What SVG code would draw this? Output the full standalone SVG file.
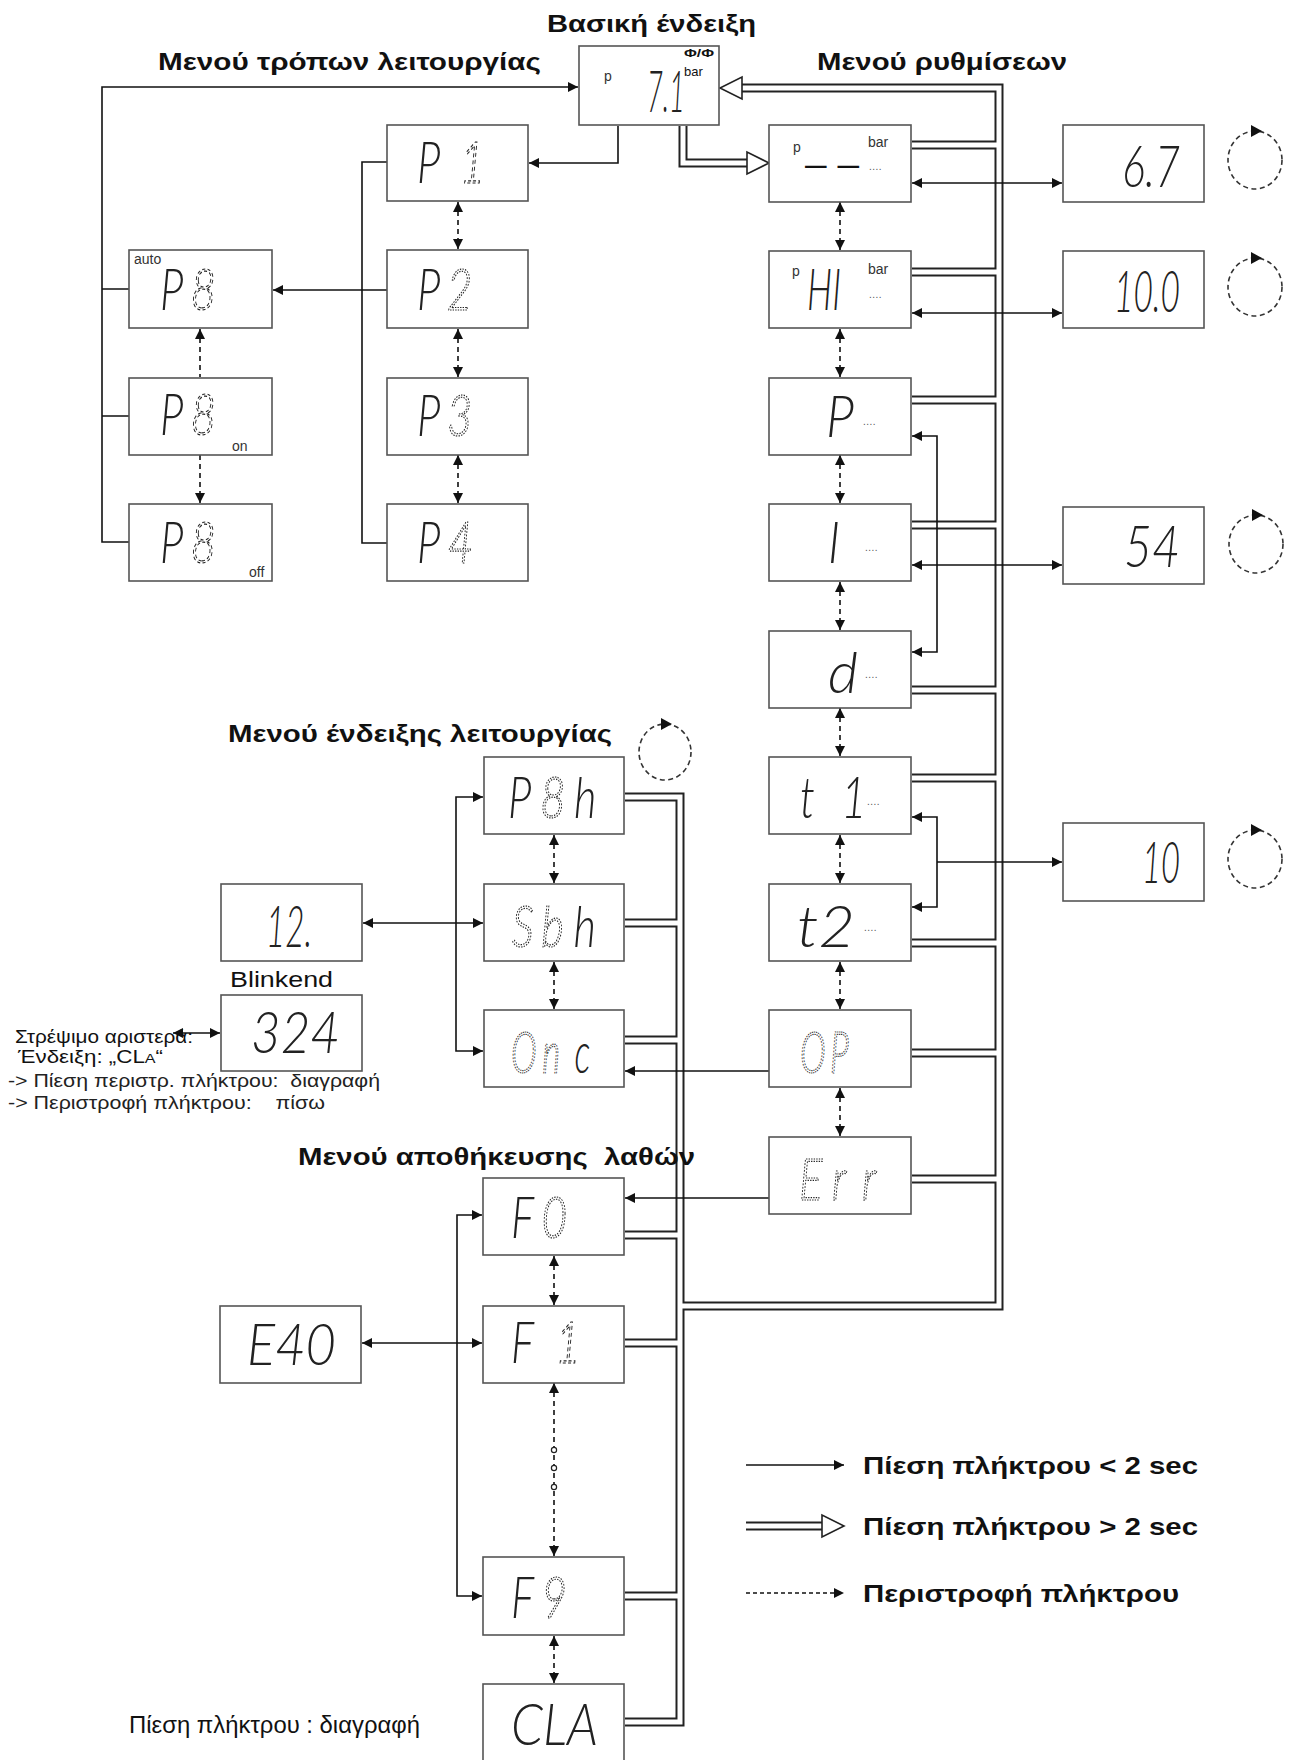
<svg xmlns="http://www.w3.org/2000/svg" xmlns:xlink="http://www.w3.org/1999/xlink" width="1293" height="1760" viewBox="0 0 1293 1760">
<style>
.bg{fill:#fff}
.box{fill:#fff;stroke:#555;stroke-width:1.6}
.t{font-family:"Liberation Sans",Arial,sans-serif;fill:#111}
.ti{font-weight:bold;font-size:24px}
.lb{font-size:19px;fill:#222}
.sm{font-size:14px;fill:#333}
.tiny{font-size:10px;fill:#555;letter-spacing:0.5px}
.lcd{font-family:Lato,"DejaVu Sans",sans-serif;font-weight:300;font-style:italic;font-size:58px;fill:#222}
.dot{fill:none;stroke:#222;stroke-width:1.2;stroke-dasharray:1.8 1.6}
.dsh{fill:none;stroke:#222;stroke-width:1.2;stroke-dasharray:4 3}
.pb{fill:none;stroke:#222;stroke-width:9}
.pw{fill:none;stroke:#fff;stroke-width:5}
.ln{fill:none;stroke:#111;stroke-width:1.6}
.da{fill:none;stroke:#111;stroke-width:1.6;stroke-dasharray:5 4}
.tri{fill:#fff;stroke:#222;stroke-width:1.6}
.rc{fill:none;stroke:#333;stroke-width:1.6;stroke-dasharray:5 3.5}
.ra{fill:#111}
</style>
<defs>
<marker id="ah" viewBox="0 0 10 10" refX="10" refY="5" markerWidth="10" markerHeight="10" markerUnits="userSpaceOnUse" orient="auto-start-reverse">
<path d="M0,0 L10,5 L0,10 z" fill="#111"/>
</marker>
<path id="pipeNet" d="M742,88 H999 V1306 H680
M912,145 H999 M912,272 H999 M912,400 H999 M912,525 H999 M912,690 H999 M912,778 H999 M912,943 H999 M912,1053 H999 M912,1179 H999
M625,797 H680 V1722 H625
M625,923 H680 M625,1040 H680 M625,1235 H680 M625,1343 H680 M625,1596 H680
M683,126 V163 H747
M746,1526 H822"/>
</defs>
<rect class="bg" x="0" y="0" width="1293" height="1760"/>

<g id="connectors">
<use xlink:href="#pipeNet" class="pb"/>
<use xlink:href="#pipeNet" class="pw"/>
<polygon class="tri" points="742,77 742,99 720,88"/>
<polygon class="tri" points="747,152 747,174 769,163"/>
<polygon class="tri" points="822,1515 822,1537 844,1526"/>

<path class="ln" d="M129,542 H102 V87 H578" marker-end="url(#ah)"/>
<path class="ln" d="M102,289 H129 M102,416 H129"/>
<path class="ln" d="M618,126 V163 H529" marker-end="url(#ah)"/>
<path class="ln" d="M387,162 H362 V543 H387"/>
<path class="ln" d="M387,290 H273" marker-end="url(#ah)"/>
<path class="ln" d="M912,183 H1062" marker-start="url(#ah)" marker-end="url(#ah)"/>
<path class="ln" d="M912,313 H1062" marker-start="url(#ah)" marker-end="url(#ah)"/>
<path class="ln" d="M912,565 H1062" marker-start="url(#ah)" marker-end="url(#ah)"/>
<path class="ln" d="M912,436 H937 V652 H912" marker-start="url(#ah)" marker-end="url(#ah)"/>
<path class="ln" d="M912,817 H937 V907 H912" marker-start="url(#ah)" marker-end="url(#ah)"/>
<path class="ln" d="M937,862 H1062" marker-end="url(#ah)"/>
<path class="ln" d="M483,797 H456 V1051 H483" marker-start="url(#ah)" marker-end="url(#ah)"/>
<path class="ln" d="M363,923 H483" marker-start="url(#ah)" marker-end="url(#ah)"/>
<path class="ln" d="M769,1071 H625" marker-end="url(#ah)"/>
<path class="ln" d="M173,1033 H220" marker-start="url(#ah)" marker-end="url(#ah)"/>
<path class="ln" d="M769,1198 H625" marker-end="url(#ah)"/>
<path class="ln" d="M482,1215 H457 V1596 H482" marker-start="url(#ah)" marker-end="url(#ah)"/>
<path class="ln" d="M362,1343 H482" marker-start="url(#ah)" marker-end="url(#ah)"/>
<path class="ln" d="M746,1465 H844" marker-end="url(#ah)"/>
<path class="ln" d="M746,1593 H844" marker-end="url(#ah)" stroke-dasharray="4 3"/>

<g id="rot-arrows">
<path class="da" d="M200,329 V377 M200,455 V503" marker-start="url(#ah)" marker-end="url(#ah)"/>
<path class="da" d="M458,202 V249" marker-start="url(#ah)" marker-end="url(#ah)"/>
<path class="da" d="M458,329 V377" marker-start="url(#ah)" marker-end="url(#ah)"/>
<path class="da" d="M458,455 V503" marker-start="url(#ah)" marker-end="url(#ah)"/>
<path class="da" d="M840,202 V250" marker-start="url(#ah)" marker-end="url(#ah)"/>
<path class="da" d="M840,329 V377" marker-start="url(#ah)" marker-end="url(#ah)"/>
<path class="da" d="M840,455 V503" marker-start="url(#ah)" marker-end="url(#ah)"/>
<path class="da" d="M840,582 V630" marker-start="url(#ah)" marker-end="url(#ah)"/>
<path class="da" d="M840,708 V756" marker-start="url(#ah)" marker-end="url(#ah)"/>
<path class="da" d="M840,835 V883" marker-start="url(#ah)" marker-end="url(#ah)"/>
<path class="da" d="M840,962 V1009" marker-start="url(#ah)" marker-end="url(#ah)"/>
<path class="da" d="M840,1088 V1136" marker-start="url(#ah)" marker-end="url(#ah)"/>
<path class="da" d="M554,835 V883" marker-start="url(#ah)" marker-end="url(#ah)"/>
<path class="da" d="M554,962 V1009" marker-start="url(#ah)" marker-end="url(#ah)"/>
<path class="da" d="M554,1256 V1305" marker-start="url(#ah)" marker-end="url(#ah)"/>
<path class="da" d="M554,1383 V1556" marker-start="url(#ah)" marker-end="url(#ah)"/>
<path class="da" d="M554,1636 V1683" marker-start="url(#ah)" marker-end="url(#ah)"/>
<circle cx="554" cy="1450" r="2.6" fill="#fff" stroke="#222" stroke-width="1.2"/>
<circle cx="554" cy="1468" r="2.6" fill="#fff" stroke="#222" stroke-width="1.2"/>
<circle cx="554" cy="1487" r="2.6" fill="#fff" stroke="#222" stroke-width="1.2"/>
</g>
</g>

<g id="titles">
<text class="t ti" x="547" y="32" textLength="209" lengthAdjust="spacingAndGlyphs">Βασική ένδειξη</text>
<text class="t ti" x="158" y="70" textLength="383" lengthAdjust="spacingAndGlyphs">Μενού τρόπων λειτουργίας</text>
<text class="t ti" x="817" y="70" textLength="250" lengthAdjust="spacingAndGlyphs">Μενού ρυθμίσεων</text>
<text class="t ti" x="228" y="742" textLength="384" lengthAdjust="spacingAndGlyphs">Μενού ένδειξης λειτουργίας</text>
<text class="t ti" x="298" y="1165" textLength="397" lengthAdjust="spacingAndGlyphs" style="white-space:pre">Μενού αποθήκευσης  λαθών</text>
</g>

<g id="n-basic">
<rect class="box" x="579" y="46" width="140" height="79"/>
<text class="t sm" x="604" y="81">p</text>
<text class="t" x="684" y="57" font-size="11" font-weight="bold" textLength="30" lengthAdjust="spacingAndGlyphs">Φ/Φ</text>
<text class="t" x="684" y="76" font-size="13" fill="#333">bar</text>
<text class="lcd" transform="translate(647,112) scale(0.47,1)" font-size="50">7.1</text>
</g>

<g id="n-p8auto">
<rect class="box" x="129" y="250" width="143" height="78"/>
<text class="t sm" x="134" y="264">auto</text>
<text class="lcd" transform="translate(160,310) scale(0.75,1)"><tspan x="0">P</tspan><tspan x="41" class="dsh">8</tspan></text>
</g>
<g id="n-p8on">
<rect class="box" x="129" y="378" width="143" height="77"/>
<text class="lcd" transform="translate(160,435) scale(0.75,1)"><tspan x="0">P</tspan><tspan x="41" class="dsh">8</tspan></text>
<text class="t sm" x="232" y="451">on</text>
</g>
<g id="n-p8off">
<rect class="box" x="129" y="504" width="143" height="77"/>
<text class="lcd" transform="translate(160,563) scale(0.75,1)"><tspan x="0">P</tspan><tspan x="41" class="dsh">8</tspan></text>
<text class="t sm" x="249" y="577">off</text>
</g>

<g id="n-p1">
<rect class="box" x="387" y="125" width="141" height="76"/>
<text class="lcd" transform="translate(417,183) scale(0.75,1)"><tspan x="0">P</tspan><tspan x="57" class="dsh">1</tspan></text>
</g>
<g id="n-p2">
<rect class="box" x="387" y="250" width="141" height="78"/>
<text class="lcd" transform="translate(417,310) scale(0.75,1)"><tspan x="0">P</tspan><tspan x="40" class="dot">2</tspan></text>
</g>
<g id="n-p3">
<rect class="box" x="387" y="378" width="141" height="77"/>
<text class="lcd" transform="translate(417,436) scale(0.75,1)"><tspan x="0">P</tspan><tspan x="40" class="dot">3</tspan></text>
</g>
<g id="n-p4">
<rect class="box" x="387" y="504" width="141" height="77"/>
<text class="lcd" transform="translate(417,563) scale(0.75,1)"><tspan x="0">P</tspan><tspan x="41" class="dot">4</tspan></text>
</g>

<g id="n-set-p">
<rect class="box" x="769" y="125" width="142" height="77"/>
<text class="t sm" x="793" y="152">p</text>
<text class="t" x="805" y="175" font-size="34" fill="#333" textLength="54" lengthAdjust="spacingAndGlyphs">– –</text>
<text class="t sm" x="868" y="147">bar</text>
<text class="t tiny" x="869" y="170">....</text>
</g>
<g id="n-set-hi">
<rect class="box" x="769" y="251" width="142" height="77"/>
<text class="t sm" x="792" y="276">p</text>
<text class="lcd" x="807" y="310" textLength="34" lengthAdjust="spacingAndGlyphs">HI</text>
<text class="t sm" x="868" y="274">bar</text>
<text class="t tiny" x="869" y="298">....</text>
</g>
<g id="n-set-P">
<rect class="box" x="769" y="378" width="142" height="77"/>
<text class="lcd" x="826" y="437" textLength="28" lengthAdjust="spacingAndGlyphs">P</text>
<text class="t tiny" x="863" y="425">....</text>
</g>
<g id="n-set-I">
<rect class="box" x="769" y="504" width="142" height="77"/>
<text class="lcd" x="828" y="563" textLength="12" lengthAdjust="spacingAndGlyphs">I</text>
<text class="t tiny" x="865" y="551">....</text>
</g>
<g id="n-set-d">
<rect class="box" x="769" y="631" width="142" height="77"/>
<text class="lcd" x="828" y="693" textLength="30" lengthAdjust="spacingAndGlyphs">d</text>
<text class="t tiny" x="865" y="678">....</text>
</g>
<g id="n-set-t1">
<rect class="box" x="769" y="757" width="142" height="77"/>
<text class="lcd" transform="translate(800,818) scale(0.75,1)"><tspan x="0">t</tspan><tspan x="55">1</tspan></text>
<text class="t tiny" x="867" y="805">....</text>
</g>
<g id="n-set-t2">
<rect class="box" x="769" y="884" width="142" height="77"/>
<text class="lcd" x="797" y="947" textLength="58" lengthAdjust="spacingAndGlyphs">t2</text>
<text class="t tiny" x="864" y="931">....</text>
</g>
<g id="n-set-op">
<rect class="box" x="769" y="1010" width="142" height="77"/>
<text class="lcd" transform="translate(800,1073) scale(0.6,1)"><tspan x="0" class="dot">O</tspan><tspan x="50" class="dot">P</tspan></text>
</g>
<g id="n-set-err">
<rect class="box" x="769" y="1137" width="142" height="77"/>
<text class="lcd" transform="translate(799,1200) scale(0.75,1)"><tspan x="0" class="dot">E</tspan><tspan x="44" class="dot">r</tspan><tspan x="84" class="dot">r</tspan></text>
</g>

<g id="n-v67">
<rect class="box" x="1063" y="125" width="141" height="77"/>
<text class="lcd" x="1122" y="187" textLength="58" lengthAdjust="spacingAndGlyphs">6.7</text>
</g>
<g id="n-v100">
<rect class="box" x="1063" y="251" width="141" height="77"/>
<text class="lcd" x="1114" y="312" textLength="66" lengthAdjust="spacingAndGlyphs">10.0</text>
</g>
<g id="n-v54">
<rect class="box" x="1063" y="507" width="141" height="77"/>
<text class="lcd" x="1124" y="567" textLength="56" lengthAdjust="spacingAndGlyphs">54</text>
</g>
<g id="n-v10">
<rect class="box" x="1063" y="823" width="141" height="78"/>
<text class="lcd" x="1142" y="883" textLength="38" lengthAdjust="spacingAndGlyphs">10</text>
</g>

<g id="n-rot1"><ellipse class="rc" cx="1255" cy="160" rx="27" ry="29"/><path class="ra" d="M1251,125 L1262,131 L1251,137 z"/></g>
<g id="n-rot2"><ellipse class="rc" cx="1255" cy="287" rx="27" ry="29"/><path class="ra" d="M1251,252 L1262,258 L1251,264 z"/></g>
<g id="n-rot3"><ellipse class="rc" cx="1256" cy="544" rx="27" ry="29"/><path class="ra" d="M1252,509 L1263,515 L1252,521 z"/></g>
<g id="n-rot4"><ellipse class="rc" cx="1255" cy="859" rx="27" ry="29"/><path class="ra" d="M1251,824 L1262,830 L1251,836 z"/></g>
<g id="n-rot5"><ellipse class="rc" cx="665" cy="752" rx="26" ry="28"/><path class="ra" d="M661,718 L672,724 L661,730 z"/></g>

<g id="n-p8h">
<rect class="box" x="484" y="757" width="140" height="77"/>
<text class="lcd" transform="translate(508,818) scale(0.75,1)"><tspan x="0">P</tspan><tspan x="43" class="dot">8</tspan><tspan x="88">h</tspan></text>
</g>
<g id="n-sbh">
<rect class="box" x="484" y="884" width="140" height="77"/>
<text class="lcd" transform="translate(512,947) scale(0.75,1)"><tspan x="0" class="dot">S</tspan><tspan x="39" class="dot">b</tspan><tspan x="82">h</tspan></text>
</g>
<g id="n-onc">
<rect class="box" x="484" y="1010" width="140" height="77"/>
<text class="lcd" transform="translate(511,1073) scale(0.6,1)"><tspan x="0" class="dot">O</tspan><tspan x="52" class="dot">n</tspan><tspan x="106">c</tspan></text>
</g>
<g id="n-v12">
<rect class="box" x="221" y="884" width="141" height="77"/>
<text class="lcd" x="266" y="947" textLength="46" lengthAdjust="spacingAndGlyphs">12.</text>
</g>
<g id="n-v324">
<rect class="box" x="221" y="995" width="141" height="76"/>
<text class="lcd" x="251" y="1053" textLength="89" lengthAdjust="spacingAndGlyphs">324</text>
</g>

<g id="n-f0">
<rect class="box" x="483" y="1178" width="141" height="77"/>
<text class="lcd" transform="translate(511,1238) scale(0.75,1)"><tspan x="0">F</tspan><tspan x="41" class="dot">0</tspan></text>
</g>
<g id="n-f1">
<rect class="box" x="483" y="1306" width="141" height="77"/>
<text class="lcd" transform="translate(511,1363) scale(0.75,1)"><tspan x="0">F</tspan><tspan x="59" class="dsh">1</tspan></text>
</g>
<g id="n-f9">
<rect class="box" x="483" y="1557" width="141" height="78"/>
<text class="lcd" transform="translate(511,1618) scale(0.75,1)"><tspan x="0">F</tspan><tspan x="41" class="dot">9</tspan></text>
</g>
<g id="n-cla">
<rect class="box" x="483" y="1684" width="141" height="80"/>
<text class="lcd" x="511" y="1745" textLength="87" lengthAdjust="spacingAndGlyphs">CLA</text>
</g>
<g id="n-e40">
<rect class="box" x="220" y="1306" width="141" height="77"/>
<text class="lcd" x="247" y="1365" textLength="89" lengthAdjust="spacingAndGlyphs">E40</text>
</g>

<g id="notes">
<text class="t" x="230" y="987" font-size="22" textLength="103" lengthAdjust="spacingAndGlyphs">Blinkend</text>
<text class="t" x="15" y="1043" font-size="18" fill="#222" textLength="178" lengthAdjust="spacingAndGlyphs">Στρέψιμο αριστερά:</text>
<text class="t" x="18" y="1063" font-size="18" fill="#222" textLength="145" lengthAdjust="spacingAndGlyphs">Ένδειξη: „CL<tspan font-size="13">A</tspan>“</text>
<text class="t lb" x="8" y="1087" textLength="372" lengthAdjust="spacingAndGlyphs" style="white-space:pre">-&gt; Πίεση περιστρ. πλήκτρου:  διαγραφή</text>
<text class="t lb" x="8" y="1109" textLength="317" lengthAdjust="spacingAndGlyphs" style="white-space:pre">-&gt; Περιστροφή πλήκτρου:    πίσω</text>
<text class="t" x="129" y="1733" font-size="23" textLength="291" lengthAdjust="spacingAndGlyphs">Πίεση πλήκτρου : διαγραφή</text>
</g>

<g id="legend">
<text class="t ti" x="863" y="1474" textLength="335" lengthAdjust="spacingAndGlyphs">Πίεση πλήκτρου &lt; 2 sec</text>
<text class="t ti" x="863" y="1535" textLength="335" lengthAdjust="spacingAndGlyphs">Πίεση πλήκτρου &gt; 2 sec</text>
<text class="t ti" x="863" y="1602" textLength="316" lengthAdjust="spacingAndGlyphs">Περιστροφή πλήκτρου</text>
</g>
</svg>
